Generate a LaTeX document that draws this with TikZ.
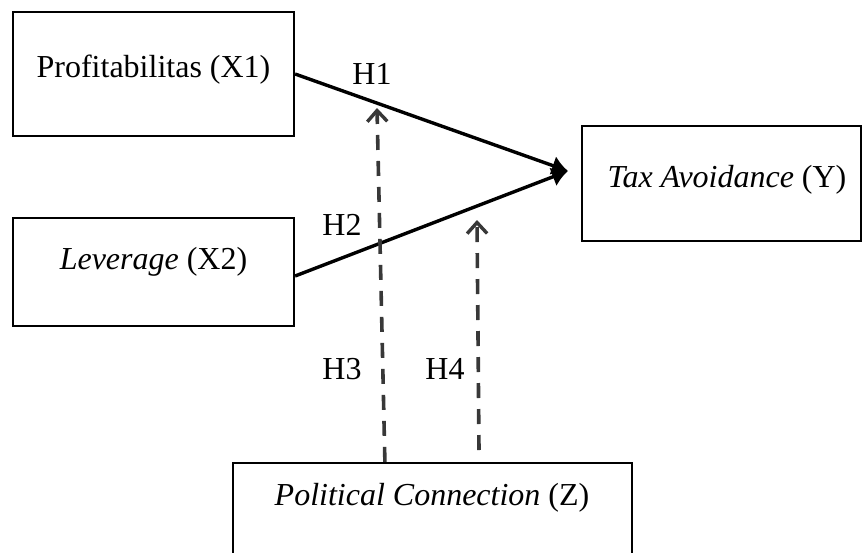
\documentclass[tikz,border=0pt]{standalone}
\usepackage{fontspec}
\setmainfont{Liberation Serif}
\usetikzlibrary{arrows.meta,calc}
\begin{document}
\begin{tikzpicture}[x=1pt,y=-1pt,
  boxnode/.style={draw=black,line width=2.2pt,rectangle,inner sep=0pt},
  txt/.style={inner sep=0pt,font=\fontsize{32}{38}\selectfont},
  solidarrow/.style={line width=3.4pt,-{Latex[length=16pt,width=20pt]}},
  dasharrow/.style={line width=3.6pt,draw=black!78,dash pattern=on 15pt off 11pt,
    -{Straight Barb[length=11pt,width=20pt,line width=3.4pt]}}]
\useasboundingbox (0,0) rectangle (862,552);
\clip (0,0) rectangle (862,552);
\fill[white] (0,0) rectangle (862,552);
% boxes
\node[boxnode,minimum width=281pt,minimum height=124pt] (b1) at (153.5,74) {};
\node[boxnode,minimum width=281pt,minimum height=108pt] (b2) at (153.5,272) {};
\node[boxnode,minimum width=279pt,minimum height=115pt] (by) at (721.5,183.5) {};
\node[boxnode,minimum width=399pt,minimum height=150pt] (bz) at (432.5,538) {};
% texts
\node[txt] (t1) at (153.5,70) {Profitabilitas (X1)};
\node[txt] (t2) at (153.5,262) {\textit{Leverage} (X2)};
\node[txt] (ty) at (727,180) {\textit{Tax Avoidance} (Y)};
\node[txt] (tz) at (432,498) {\textit{Political Connection} (Z)};
% labels
\node[txt] (h1) at (372,74) {H1};
\node[txt] (h2) at (342,225) {H2};
\node[txt] (h3) at (342,369) {H3};
\node[txt] (h4) at (445,369) {H4};
% coordinates
\coordinate (tip) at (568,171);
\coordinate (h3e) at (377,108);
\coordinate (h3s) at ([xshift=153pt]bz.north west);
\coordinate (h4s) at (479,450);
\coordinate (h4e) at (477,220);
% connectors
\draw[solidarrow] (b1.east) -- (tip);
\draw[solidarrow] ([yshift=-4pt]b2.east) -- (tip);
\draw[dasharrow] (h3s) -- (h3e);
\draw[dasharrow] (h4s) -- (h4e);
\end{tikzpicture}
\end{document}
